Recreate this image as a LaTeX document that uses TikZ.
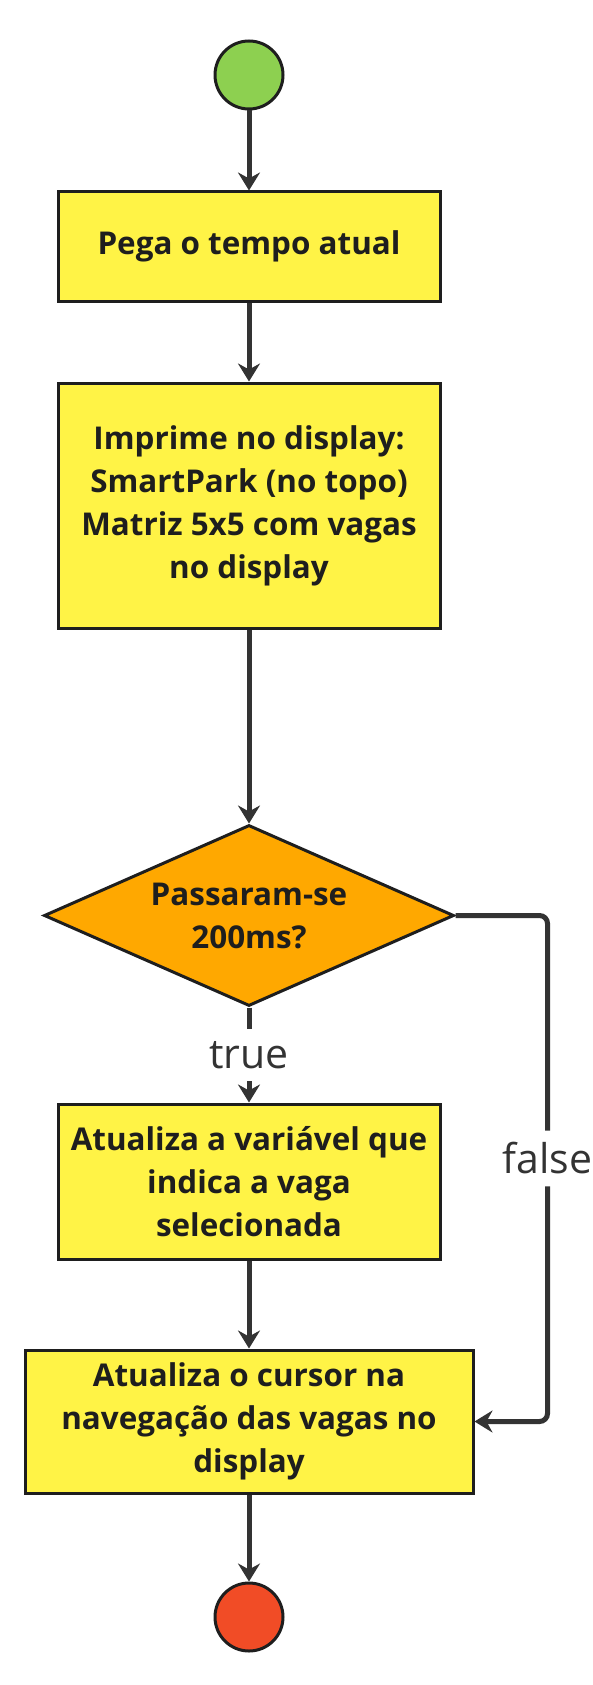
\documentclass[tikz,border=0pt]{standalone}
\usepackage{fontspec}
\setmainfont{Open Sans}
\usetikzlibrary{arrows.meta, positioning, shapes.geometric}

\definecolor{startgreen}{RGB}{141,208,80}
\definecolor{stepyellow}{RGB}{255,243,70}
\definecolor{decorange}{RGB}{255,168,0}
\definecolor{stopred}{RGB}{241,76,38}
\definecolor{linegray}{RGB}{51,51,51}
\definecolor{edgeblack}{RGB}{30,30,30}

\begin{document}
\begin{tikzpicture}[
    x=0.5pt, y=-0.5pt,
    >={Stealth[length=9pt, width=11pt, inset=3pt]},
    font=\bfseries\fontsize{15.7}{21.5}\selectfont,
    % Define styles for the different node types
    startnode/.style={circle, draw=edgeblack, fill=startgreen, line width=1.5pt, minimum size=34pt, inner sep=0pt},
    stopnode/.style={circle, draw=edgeblack, fill=stopred, line width=1.5pt, minimum size=34pt, inner sep=0pt},
    stepbox/.style={rectangle, draw=edgeblack, fill=stepyellow, line width=1.5pt, text=edgeblack, align=center, minimum width=191pt, inner sep=4pt},
    decbox/.style={diamond, aspect=2.25, draw=edgeblack, fill=decorange, line width=1.5pt, text=edgeblack, align=center, minimum width=205pt, minimum height=90.5pt, inner sep=0pt},
    flow/.style={->, draw=linegray, line width=2.5pt},
    flowlabel/.style={fill=white, text=linegray, font=\mdseries\fontsize{20.5}{24}\selectfont, inner sep=6pt},
]
\useasboundingbox (0,0) rectangle (593,1685);

% -------------------------
% Main Flow Nodes
% -------------------------
\node (start) [startnode] at (249,75) {};
\node (time) [stepbox, minimum height=54.5pt, below=40pt of start] {Pega o tempo atual};
\node (print) [stepbox, minimum height=122.5pt, below=39.5pt of time] {Imprime no display:\\SmartPark (no topo)\\Matriz 5x5 com vagas\\no display};

% Decision
\node (wait) [decbox, below=97pt of print] {Passaram-se\\200ms?};

% Update Nodes
\node (select) [stepbox, minimum height=77.5pt, below=47.5pt of wait] {Atualiza a variável que\\indica a vaga\\selecionada};
\node (cursor) [stepbox, minimum width=224pt, minimum height=71.5pt, below=44pt of select] {Atualiza o cursor na\\navegação das vagas no\\display};

\node (stop) [stopnode, below=43.5pt of cursor] {};

% -------------------------
% Arrow Connections
% -------------------------
\draw[flow] (start) -- (time);
\draw[flow] (time) -- (print);
\draw[flow] (print) -- (wait);

% true branch
\draw[flow] (wait) -- node[flowlabel] {true} (select);
\draw[flow] (select) -- (cursor);

% false branch, round the right side
\draw[flow, rounded corners=4pt] (wait.east) -- ++(92,0) |- node[flowlabel, pos=0.24] {false} (cursor.east);

\draw[flow] (cursor) -- (stop);

\end{tikzpicture}
\end{document}
